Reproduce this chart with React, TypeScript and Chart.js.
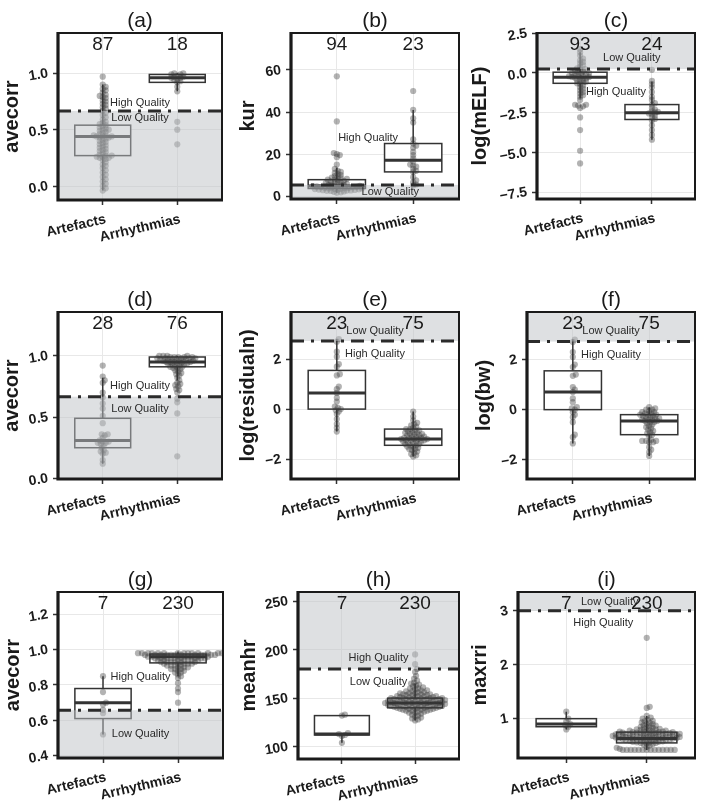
import React, { useEffect, useRef } from 'react';
import { Chart, registerables } from 'chart.js';
Chart.register(...registerables);

const CATEGORIES = ['Artefacts', 'Arrhythmias'];
const FONT = '"Liberation Sans", Arial, Helvetica, sans-serif';

// ---------- (a) avecorr ----------
const A_ART = [0.97, 0.90, 0.88, 0.86, 0.85, 0.83, 0.81, 0.80, 0.79, 0.78, 0.76, 0.75, 0.73, 0.72, 0.70, 0.69, 0.67, 0.65, 0.63, 0.61, 0.59, 0.57, 0.56, 0.55, 0.54, 0.53, 0.52, 0.51, 0.50, 0.50, 0.49, 0.48, 0.47, 0.46, 0.45, 0.45, 0.44, 0.44, 0.44, 0.43, 0.43, 0.42, 0.41, 0.40, 0.39, 0.38, 0.37, 0.36, 0.35, 0.34, 0.33, 0.32, 0.31, 0.30, 0.29, 0.28, 0.27, 0.27, 0.26, 0.26, 0.25, 0.25, 0.24, 0.23, 0.21, 0.19, 0.18, 0.16, 0.14, 0.12, 0.10, 0.08, 0.06, 0.04, 0.02, 0.00, -0.02, -0.04];
const A_ARR = [1.00, 1.00, 0.99, 0.99, 0.98, 0.97, 0.97, 0.96, 0.96, 0.95, 0.94, 0.93, 0.92, 0.88, 0.84, 0.57, 0.50, 0.37];
const A_ART_BOX = [-0.04, 0.27, 0.44, 0.54, 0.90];
const A_ARR_BOX = [0.84, 0.92, 0.96, 0.99, 1.00];
const A_COUNTS = ['87', '18'];
const A_TICKS = [0, 0.5, 1.0];

// ---------- (b) kur ----------
const B_ART = [57, 35.5, 20.5, 20, 19.5, 18.5, 15, 13, 12, 11.5, 11, 10.5, 10, 9.5, 9, 8.8, 8.5, 8.2, 8, 7.8, 7.5, 7.2, 7, 6.8, 6.5, 6.3, 6, 5.8, 5.6, 5.4, 5.2, 5, 4.9, 4.8, 4.7, 4.6, 4.5, 4.4, 4.3, 4.2, 4.1, 4, 3.9, 3.8, 3.7, 3.6, 3.5, 3.4, 3.3, 3.2, 3.1, 3, 2.9, 2.8, 2.7, 2.6, 2.5, 2.4, 2.2, 2, 1.8, 1.6];
const B_ARR = [50, 41, 37, 35, 27, 25, 24, 23, 21, 19.5, 18, 16.5, 15, 14.5, 14, 13, 12, 11.5, 9, 7.5, 6.5, 5.5, 5];
const B_ART_BOX = [1.6, 3.6, 4.8, 7.8, 13.5];
const B_ARR_BOX = [5, 11.5, 17, 25, 41];
const B_COUNTS = ['94', '23'];
const B_TICKS = [0, 20, 40, 60];

// ---------- (c) log(mELF) ----------
const C_ART = [1.5, 1.3, 1.1, 0.9, 0.8, 0.7, 0.6, 0.5, 0.4, 0.3, 0.25, 0.2, 0.15, 0.1, 0.05, 0, 0, -0.05, -0.1, -0.1, -0.15, -0.2, -0.2, -0.25, -0.25, -0.3, -0.3, -0.35, -0.4, -0.45, -0.5, -0.55, -0.6, -0.65, -0.7, -0.8, -0.9, -1.0, -1.1, -1.2, -1.3, -1.4, -1.5, -1.7, -2.0, -2.0, -2.05, -2.1, -2.2, -2.8, -3.6, -4.9, -5.7];
const C_ARR = [0.2, -0.5, -0.7, -0.9, -1.2, -1.5, -1.7, -1.9, -2.0, -2.2, -2.3, -2.4, -2.45, -2.5, -2.55, -2.6, -2.7, -2.8, -2.9, -3.0, -3.3, -3.6, -3.9, -4.2];
const C_ART_BOX = [-1.6, -0.65, -0.27, 0.05, 1.3];
const C_ARR_BOX = [-4.2, -2.93, -2.5, -1.99, -0.55];
const C_COUNTS = ['93', '24'];
const C_TICKS = [-7.5, -5, -2.5, 0, 2.5];

// ---------- (d) avecorr ----------
const D_ART = [0.92, 0.83, 0.80, 0.78, 0.70, 0.66, 0.61, 0.57, 0.51, 0.45, 0.36, 0.36, 0.35, 0.33, 0.31, 0.30, 0.30, 0.29, 0.29, 0.28, 0.27, 0.25, 0.23, 0.22, 0.21, 0.20, 0.15, 0.12];
const D_ARR = [1.00, 1.00, 1.00, 1.00, 0.99, 0.99, 0.99, 0.99, 0.99, 0.98, 0.98, 0.98, 0.98, 0.98, 0.97, 0.97, 0.97, 0.97, 0.97, 0.96, 0.96, 0.96, 0.96, 0.95, 0.95, 0.95, 0.95, 0.94, 0.94, 0.94, 0.93, 0.93, 0.93, 0.92, 0.92, 0.91, 0.91, 0.90, 0.90, 0.89, 0.88, 0.87, 0.86, 0.85, 0.84, 0.82, 0.80, 0.78, 0.77, 0.76, 0.75, 0.73, 0.72, 0.70, 0.65, 0.62, 0.53, 0.18];
const D_ART_BOX = [0.12, 0.25, 0.31, 0.49, 0.82];
const D_ARR_BOX = [0.80, 0.91, 0.95, 0.99, 1.00];
const D_COUNTS = ['28', '76'];
const D_TICKS = [0, 0.5, 1.0];

// ---------- (e) log(residualn) ----------
const E_ART = [2.8, 2.7, 2.3, 2.1, 1.8, 1.7, 1.4, 1.35, 0.9, 0.8, 0.65, 0.45, 0.3, 0.1, 0.05, 0.0, -0.05, -0.1, -0.2, -0.4, -0.6, -0.75, -0.9];
const E_ARR = [-0.1, -0.3, -0.45, -0.55, -0.6, -0.65, -0.7, -0.75, -0.8, -0.8, -0.85, -0.85, -0.9, -0.9, -0.95, -0.95, -1.0, -1.0, -1.0, -1.05, -1.05, -1.1, -1.1, -1.1, -1.15, -1.15, -1.15, -1.2, -1.2, -1.2, -1.2, -1.25, -1.25, -1.25, -1.3, -1.3, -1.3, -1.35, -1.35, -1.4, -1.4, -1.45, -1.45, -1.5, -1.5, -1.55, -1.6, -1.6, -1.65, -1.7, -1.75, -1.8, -1.85, -1.9];
const E_ART_BOX = [-0.9, 0.0, 0.65, 1.55, 2.8];
const E_ARR_BOX = [-1.9, -1.45, -1.2, -0.8, -0.1];
const E_COUNTS = ['23', '75'];
const E_TICKS = [-2, 0, 2];

// ---------- (f) log(bw) ----------
const F_ART = [2.8, 2.7, 2.3, 2.1, 1.8, 1.7, 1.4, 1.35, 0.9, 0.8, 0.7, 0.45, 0.3, 0.1, 0.05, 0.0, -0.1, -0.2, -0.3, -0.5, -1.0, -1.1, -1.35];
const F_ARR = [0.1, 0.05, 0.0, 0.0, -0.05, -0.1, -0.1, -0.15, -0.15, -0.2, -0.2, -0.2, -0.25, -0.25, -0.3, -0.3, -0.35, -0.35, -0.4, -0.4, -0.4, -0.45, -0.45, -0.5, -0.5, -0.55, -0.6, -0.65, -0.7, -0.75, -0.8, -0.85, -0.9, -0.95, -1.0, -1.05, -1.2, -1.25, -1.25, -1.25, -1.3, -1.3, -1.5, -1.6, -1.7, -1.85];
const F_ART_BOX = [-1.35, 0.0, 0.7, 1.55, 2.8];
const F_ARR_BOX = [-1.85, -1.0, -0.45, -0.2, 0.1];
const F_COUNTS = ['23', '75'];
const F_TICKS = [-2, 0, 2];

// ---------- (g) avecorr ----------
const G_ART = [0.85, 0.76, 0.70, 0.69, 0.66, 0.64, 0.52];
const G_ARR = [
  0.98, 0.98, 0.98, 0.98, 0.98, 0.98, 0.98, 0.98, 0.98, 0.98, 0.98, 0.98, 0.98, 0.98,
  0.97, 0.97, 0.97, 0.97, 0.97, 0.97, 0.97, 0.97, 0.97, 0.97, 0.97, 0.97,
  0.96, 0.96, 0.96, 0.96, 0.96, 0.96, 0.96, 0.96, 0.96, 0.96,
  0.95, 0.95, 0.95, 0.95, 0.95, 0.95, 0.95, 0.95, 0.95,
  0.94, 0.94, 0.94, 0.94, 0.94, 0.94, 0.94,
  0.93, 0.93, 0.93, 0.93, 0.93, 0.93,
  0.92, 0.92, 0.92, 0.92, 0.92, 0.91, 0.91, 0.91, 0.91,
  0.90, 0.90, 0.90, 0.89, 0.89, 0.89, 0.88, 0.88, 0.87, 0.87, 0.86, 0.85, 0.84, 0.81, 0.78, 0.76, 0.70,
];
const G_ART_BOX = [0.52, 0.61, 0.70, 0.78, 0.85];
const G_ARR_BOX = [0.85, 0.925, 0.96, 0.975, 0.99];
const G_COUNTS = ['7', '230'];
const G_TICKS = [0.4, 0.6, 0.8, 1.0, 1.2];

// ---------- (h) meanhr ----------
const H_ART = [133, 132, 114, 113, 112, 111, 104];
const H_ARR = [
  195, 185, 180, 177, 173, 170, 168, 166, 165, 164, 163, 162, 161, 160, 160, 159, 158, 158, 157, 157, 156, 156,
  155, 155, 155, 154, 154, 154, 153, 153, 153, 152, 152, 152, 152, 151, 151, 151, 151,
  150, 150, 150, 150, 150, 149, 149, 149, 149, 149, 148, 148, 148, 148, 148, 147, 147, 147, 147, 147,
  146, 146, 146, 146, 146, 145, 145, 145, 145, 145, 145, 144, 144, 144, 144, 144, 143, 143, 143, 143, 143,
  142, 142, 142, 142, 142, 141, 141, 141, 141, 141, 140, 140, 140, 140, 139, 139, 139, 139, 138, 138, 138,
  137, 137, 137, 136, 136, 135, 135, 134, 133, 132, 131, 130, 129, 128, 127,
];
const H_ART_BOX = [104, 112, 113, 132, 133];
const H_ARR_BOX = [127, 140, 145, 150, 165];
const H_COUNTS = ['7', '230'];
const H_TICKS = [100, 150, 200, 250];

// ---------- (i) maxrri ----------
const I_ART = [1.13, 1.0, 0.95, 0.9, 0.88, 0.85, 0.8];
const I_ARR = [
  2.5, 1.22, 1.2, 1.05, 1.02, 1.0, 0.98, 0.96, 0.95, 0.93, 0.92, 0.9, 0.9, 0.88, 0.87, 0.86, 0.85, 0.84, 0.83, 0.82, 0.81,
  0.8, 0.8, 0.8, 0.79, 0.78, 0.78, 0.78, 0.77, 0.76, 0.76, 0.76, 0.75, 0.75, 0.75, 0.74, 0.74, 0.74, 0.73, 0.73, 0.73,
  0.72, 0.72, 0.72, 0.72, 0.71, 0.71, 0.71, 0.7, 0.7, 0.7, 0.7, 0.69, 0.69, 0.69, 0.68, 0.68, 0.68, 0.68, 0.67, 0.67, 0.67,
  0.66, 0.66, 0.66, 0.66, 0.65, 0.65, 0.65, 0.64, 0.64, 0.64, 0.63, 0.63, 0.63, 0.63, 0.62, 0.62, 0.62, 0.61, 0.61, 0.61,
  0.6, 0.6, 0.6, 0.59, 0.59, 0.58, 0.58, 0.57, 0.57, 0.56, 0.56, 0.55, 0.55, 0.54, 0.53, 0.52, 0.5, 0.48, 0.46, 0.44,
  0.42, 0.42, 0.42, 0.42, 0.42, 0.42, 0.42, 0.42, 0.42, 0.42, 0.42, 0.42, 0.42, 0.42,
];
const I_ART_BOX = [0.8, 0.85, 0.9, 1.0, 1.13];
const I_ARR_BOX = [0.42, 0.55, 0.63, 0.75, 1.05];
const I_COUNTS = ['7', '230'];
const I_TICKS = [1, 2, 3];

// thresholds and label anchors (data units)
const THRESHOLDS = [0.666, 5.3, 0.25, 0.666, 2.73, 2.72, 0.657, 180, 3.0];
const SHADE_SIDE = ['below', 'below', 'above', 'below', 'above', 'above', 'below', 'above', 'above'];
const HIGH_LABEL_POS = [[1.5, 0.734], [1.41, 27.5], [1.5, -1.19], [1.5, 0.75], [1.5, 2.2], [1.5, 2.2], [1.5, 0.845], [1.5, 191.8], [1.46, 2.77]];
const LOW_LABEL_POS = [[1.5, 0.60], [1.70, 1.8], [1.72, 0.94], [1.5, 0.568], [1.5, 3.14], [1.5, 3.14], [1.5, 0.525], [1.5, 167], [1.54, 3.17]];
const Y_RANGES = [[-0.124, 1.358], [-1.4, 77.6], [-7.94, 2.52], [-0.005, 1.357], [-2.8, 3.89], [-2.77, 3.9], [0.387, 1.326], [87.3, 259.3], [0.27, 3.35]];
const DECIMALS = [1, 0, 1, 1, 0, 0, 1, 0, 0];

type Layout = { cx: number; cy: number; cw: number; ch: number; L: number; R: number; T: number; B: number; tp: number };
type Panel = {
  tag: string; yTitle: string; art: number[]; arr: number[]; artBox: number[]; arrBox: number[];
  counts: string[]; ticks: number[]; layout: Layout;
};

const PANELS: Panel[] = [
  { tag: '(a)', yTitle: 'avecorr', art: A_ART, arr: A_ARR, artBox: A_ART_BOX, arrBox: A_ARR_BOX, counts: A_COUNTS, ticks: A_TICKS, layout: { cx: 0, cy: 0, cw: 232, ch: 266, L: 58, R: 222, T: 33, B: 200, tp: 0 } },
  { tag: '(b)', yTitle: 'kur', art: B_ART, arr: B_ARR, artBox: B_ART_BOX, arrBox: B_ARR_BOX, counts: B_COUNTS, ticks: B_TICKS, layout: { cx: 232, cy: 0, cw: 234, ch: 266, L: 291, R: 459, T: 33, B: 199, tp: 4.5 } },
  { tag: '(c)', yTitle: 'log(mELF)', art: C_ART, arr: C_ARR, artBox: C_ART_BOX, arrBox: C_ARR_BOX, counts: C_COUNTS, ticks: C_TICKS, layout: { cx: 466, cy: 0, cw: 238, ch: 266, L: 537, R: 695, T: 33, B: 199, tp: 2 } },
  { tag: '(d)', yTitle: 'avecorr', art: D_ART, arr: D_ARR, artBox: D_ART_BOX, arrBox: D_ARR_BOX, counts: D_COUNTS, ticks: D_TICKS, layout: { cx: 0, cy: 268, cw: 232, ch: 272, L: 58, R: 222, T: 312, B: 479, tp: 0.5 } },
  { tag: '(e)', yTitle: 'log(residualn)', art: E_ART, arr: E_ARR, artBox: E_ART_BOX, arrBox: E_ARR_BOX, counts: E_COUNTS, ticks: E_TICKS, layout: { cx: 232, cy: 268, cw: 234, ch: 272, L: 291, R: 459, T: 312, B: 479, tp: 4.3 } },
  { tag: '(f)', yTitle: 'log(bw)', art: F_ART, arr: F_ARR, artBox: F_ART_BOX, arrBox: F_ARR_BOX, counts: F_COUNTS, ticks: F_TICKS, layout: { cx: 466, cy: 268, cw: 238, ch: 272, L: 527, R: 695, T: 312, B: 479, tp: 6.7 } },
  { tag: '(g)', yTitle: 'avecorr', art: G_ART, arr: G_ARR, artBox: G_ART_BOX, arrBox: G_ARR_BOX, counts: G_COUNTS, ticks: G_TICKS, layout: { cx: 0, cy: 540, cw: 232, ch: 271, L: 58, R: 223, T: 592, B: 758, tp: 1 } },
  { tag: '(h)', yTitle: 'meanhr', art: H_ART, arr: H_ARR, artBox: H_ART_BOX, arrBox: H_ARR_BOX, counts: H_COUNTS, ticks: H_TICKS, layout: { cx: 232, cy: 540, cw: 234, ch: 271, L: 298, R: 459, T: 592, B: 759, tp: 5.7 } },
  { tag: '(i)', yTitle: 'maxrri', art: I_ART, arr: I_ARR, artBox: I_ART_BOX, arrBox: I_ARR_BOX, counts: I_COUNTS, ticks: I_TICKS, layout: { cx: 466, cy: 540, cw: 238, ch: 271, L: 518, R: 695, T: 592, B: 758, tp: 2 } },
];

// beeswarm-like dodge of overlapping points (layout only, values unchanged)
function swarm(values: number[], center: number, pxY: number, pxX: number) {
  const d = 3.1;
  const step = 1.0;
  const order = values.map((v, i) => ({ v, i })).sort((a, b) => a.v - b.v);
  const placed: { x: number; y: number }[] = [];
  const out: { x: number; y: number }[] = new Array(values.length);
  for (const p of order) {
    const y = p.v * pxY;
    let chosen = 0;
    for (let k = 0; k < 400; k++) {
      const off = k === 0 ? 0 : (k % 2 ? 1 : -1) * Math.ceil(k / 2) * step;
      let ok = true;
      for (const q of placed) {
        const dx = q.x - off, dy = q.y - y;
        if (dx * dx + dy * dy < d * d) { ok = false; break; }
      }
      if (ok) { chosen = off; break; }
    }
    placed.push({ x: chosen, y });
    out[p.i] = { x: center + chosen / pxX, y: p.v };
  }
  return out;
}

function fmt(v: number, dec: number) {
  const s = Math.abs(v).toFixed(dec);
  return (v < 0 ? '\u2212' : '') + s;
}

function PanelChart({ p, idx }: { p: Panel; idx: number }) {
  const ref = useRef<HTMLCanvasElement>(null);
  useEffect(() => {
    const lay = p.layout;
    const [yMin, yMax] = Y_RANGES[idx];
    const pxY = (lay.B - lay.T) / (yMax - yMin);
    const pxX = (lay.R - lay.L) / 2.2;
    const artPts = swarm(p.art, 1, pxY, pxX);
    const arrPts = swarm(p.arr, 2, pxY, pxX);
    const thr = THRESHOLDS[idx];
    const side = SHADE_SIDE[idx];
    const dec = DECIMALS[idx];

    const plugin = {
      id: 'boxes' + idx,
      beforeDatasetsDraw(chart: any) {
        const ctx = chart.ctx;
        const xs = chart.scales.x, ys = chart.scales.y;
        const half = (xs.getPixelForValue(1.375) - xs.getPixelForValue(1));
        [[1, p.artBox], [2, p.arrBox]].forEach(([g, st]: any) => {
          const cx = xs.getPixelForValue(g);
          const [lo, q1, med, q3, hi] = st.map((v: number) => ys.getPixelForValue(v));
          ctx.save();
          ctx.strokeStyle = '#333333';
          ctx.lineWidth = 1.5;
          ctx.beginPath();
          ctx.moveTo(cx, q3); ctx.lineTo(cx, hi);
          ctx.moveTo(cx, q1); ctx.lineTo(cx, lo);
          ctx.stroke();
          ctx.fillStyle = '#ffffff';
          ctx.fillRect(cx - half, q3, 2 * half, q1 - q3);
          ctx.strokeRect(cx - half, q3, 2 * half, q1 - q3);
          ctx.lineWidth = 3;
          ctx.beginPath();
          ctx.moveTo(cx - half, med); ctx.lineTo(cx + half, med);
          ctx.stroke();
          ctx.restore();
        });
      },
      afterDatasetsDraw(chart: any) {
        const ctx = chart.ctx;
        const a = chart.chartArea;
        const xs = chart.scales.x, ys = chart.scales.y;
        const ty = ys.getPixelForValue(thr);
        ctx.save();
        ctx.beginPath();
        ctx.rect(a.left, a.top, a.right - a.left, a.bottom - a.top);
        ctx.clip();
        ctx.fillStyle = 'rgba(190,194,198,0.5)';
        if (side === 'below') ctx.fillRect(a.left, ty, a.right - a.left, a.bottom - ty);
        else ctx.fillRect(a.left, a.top, a.right - a.left, ty - a.top);
        ctx.strokeStyle = '#2b2b2b';
        ctx.lineWidth = 3;
        ctx.setLineDash([13, 7, 3, 7]);
        ctx.beginPath();
        ctx.moveTo(a.left, ty); ctx.lineTo(a.right, ty);
        ctx.stroke();
        ctx.setLineDash([]);
        ctx.fillStyle = '#2a2a2a';
        ctx.font = '11px ' + FONT;
        ctx.textAlign = 'center';
        ctx.textBaseline = 'middle';
        const hp = HIGH_LABEL_POS[idx], lp = LOW_LABEL_POS[idx];
        ctx.fillText('High Quality', xs.getPixelForValue(hp[0]), ys.getPixelForValue(hp[1]));
        ctx.fillText('Low Quality', xs.getPixelForValue(lp[0]), ys.getPixelForValue(lp[1]));
        ctx.fillStyle = '#1a1a1a';
        ctx.font = '19px ' + FONT;
        ctx.textBaseline = 'alphabetic';
        ctx.fillText(p.counts[0], xs.getPixelForValue(1), a.top + 16.5);
        ctx.fillText(p.counts[1], xs.getPixelForValue(2), a.top + 16.5);
        ctx.restore();
      },
      afterDraw(chart: any) {
        const ctx = chart.ctx;
        const a = chart.chartArea;
        ctx.save();
        ctx.strokeStyle = '#1a1a1a';
        ctx.lineWidth = 2;
        ctx.strokeRect(a.left, a.top, a.right - a.left, a.bottom - a.top);
        ctx.lineWidth = 3.2;
        ctx.beginPath();
        ctx.moveTo(a.left, a.top - 1); ctx.lineTo(a.left, a.bottom);
        ctx.lineTo(a.right + 1, a.bottom);
        ctx.stroke();
        ctx.fillStyle = '#1a1a1a';
        ctx.font = '21px ' + FONT;
        ctx.textAlign = 'center';
        ctx.textBaseline = 'alphabetic';
        ctx.fillText(p.tag, (a.left + a.right) / 2, a.top - 6);
        ctx.restore();
      },
    };

    const pointStyle = {
      backgroundColor: 'rgba(55,55,55,0.38)',
      borderWidth: 0,
      pointRadius: 3.1,
      pointHoverRadius: 3.1,
    };

    const chart = new Chart(ref.current as HTMLCanvasElement, {
      type: 'scatter',
      data: {
        datasets: [
          { label: CATEGORIES[0], data: artPts, ...pointStyle },
          { label: CATEGORIES[1], data: arrPts, ...pointStyle },
        ],
      },
      options: {
        animation: false,
        responsive: false,
        maintainAspectRatio: false,
        events: [],
        layout: { padding: { top: lay.T - lay.cy, right: lay.cx + lay.cw - lay.R, bottom: 0, left: 0 } },
        plugins: { legend: { display: false }, tooltip: { enabled: false }, title: { display: false } },
        scales: {
          x: {
            type: 'linear',
            min: 0.4,
            max: 2.6,
            afterBuildTicks: (s: any) => { s.ticks = [{ value: 1 }, { value: 2 }]; },
            afterFit: (s: any) => { s.height = lay.cy + lay.ch - lay.B; },
            ticks: {
              callback: (v: any) => CATEGORIES[Math.round(v) - 1],
              minRotation: 13,
              maxRotation: 13,
              autoSkip: false,
              padding: 6,
              labelOffset: 3,
              color: '#1a1a1a',
              font: { family: FONT, size: 14, weight: 'bold' },
            },
            grid: { color: '#e8e8e8', lineWidth: 1, tickColor: '#333333', tickLength: 5, tickWidth: 1.5 },
            border: { display: false },
          },
          y: {
            type: 'linear',
            min: yMin,
            max: yMax,
            afterBuildTicks: (s: any) => { s.ticks = p.ticks.map((v) => ({ value: v })); },
            afterFit: (s: any) => { s.width = lay.L - lay.cx; },
            ticks: {
              callback: (v: any) => fmt(Number(v), dec),
              minRotation: 10,
              maxRotation: 10,
              padding: 5,
              color: '#1a1a1a',
              font: { family: FONT, size: 14, weight: 'bold' },
            },
            grid: { color: '#e8e8e8', lineWidth: 1, tickColor: '#333333', tickLength: 5, tickWidth: 1.5 },
            border: { display: false },
            title: {
              display: true,
              text: p.yTitle,
              color: '#1a1a1a',
              font: { family: FONT, size: 20, weight: 'bold' },
              padding: { top: lay.tp, bottom: 0 },
            },
          },
        },
      } as any,
      plugins: [plugin],
    });
    return () => chart.destroy();
  }, [p, idx]);
  const lay = p.layout;
  return (
    <canvas
      ref={ref}
      width={lay.cw}
      height={lay.ch}
      style={{ position: 'absolute', left: lay.cx, top: lay.cy, width: lay.cw, height: lay.ch }}
    />
  );
}

export default function App() {
  return (
    <div style={{ position: 'absolute', left: 0, top: 0, width: 704, height: 811, background: '#ffffff' }}>
      {PANELS.map((p, i) => (
        <PanelChart key={p.tag} p={p} idx={i} />
      ))}
    </div>
  );
}
